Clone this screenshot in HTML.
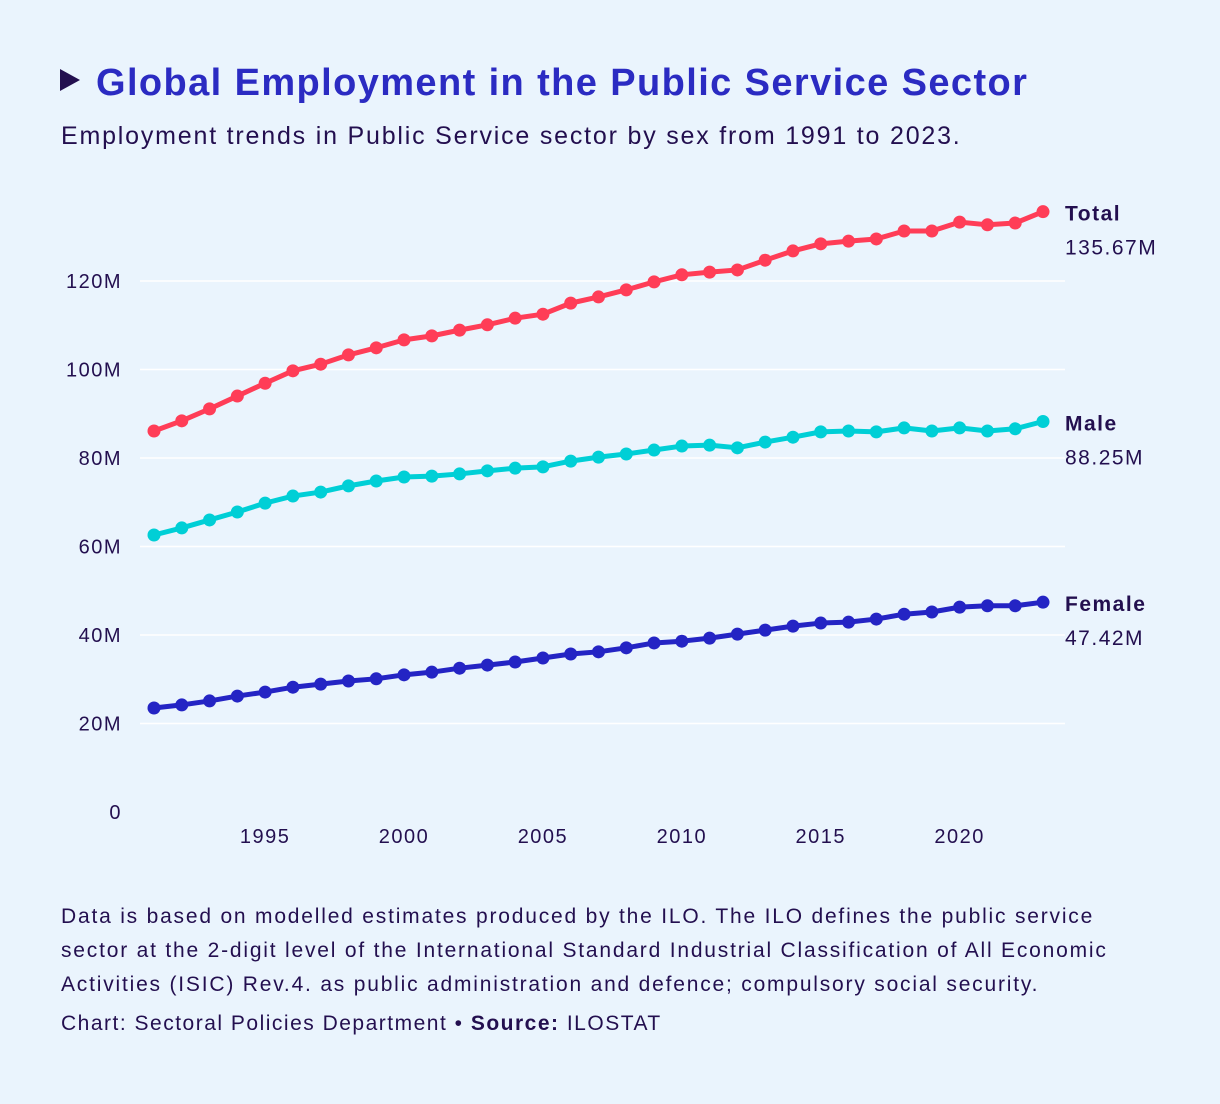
<!DOCTYPE html>
<html><head><meta charset="utf-8"><style>
body{margin:0;width:1220px;height:1104px;background:#eaf4fd;font-family:"Liberation Sans",sans-serif;color:#230f4f;overflow:hidden}
#t{position:absolute;left:60px;top:62px;font-size:38px;font-weight:bold;color:#2b2bc2;white-space:nowrap;letter-spacing:1.4px}
#t span{display:inline-block;width:0;height:0;border-top:11px solid transparent;border-bottom:11px solid transparent;border-left:20px solid #230f4f;margin-right:16px;vertical-align:4px}
#s{position:absolute;left:61px;top:122px;font-size:25px;letter-spacing:1.8px;white-space:nowrap}
#n{position:absolute;left:61px;top:900px;font-size:21px;line-height:34px;white-space:nowrap;letter-spacing:1.8px}
#c{position:absolute;left:61px;top:1012px;font-size:21px;letter-spacing:1.5px}
svg{position:absolute;left:0;top:0}
svg text{letter-spacing:1.5px}
</style></head><body>
<div id="t"><span></span>Global Employment in the Public Service Sector</div>
<div id="s">Employment trends in Public Service sector by sex from 1991 to 2023.</div>
<svg id="chart" width="1220" height="1104"></svg>
<div id="n">Data is based on modelled estimates produced by the ILO. The ILO defines the public service<br>sector at the 2-digit level of the International Standard Industrial Classification of All Economic<br>Activities (ISIC) Rev.4. as public administration and defence; compulsory social security.</div>
<div id="c">Chart: Sectoral Policies Department • <b>Source:</b> ILOSTAT</div>
<script>
const years=[];for(let y=1991;y<=2023;y++)years.push(y);
const total=[86.1,88.4,91.1,94.0,96.9,99.7,101.2,103.3,104.9,106.7,107.6,108.9,110.1,111.6,112.5,115.0,116.4,118.0,119.8,121.4,122.0,122.5,124.7,126.8,128.4,129.0,129.5,131.3,131.3,133.3,132.7,133.1,135.67];
const male=[62.6,64.2,66.0,67.8,69.8,71.4,72.3,73.7,74.8,75.7,75.9,76.4,77.1,77.7,78.0,79.3,80.2,80.9,81.8,82.7,82.9,82.3,83.6,84.7,85.9,86.1,85.9,86.8,86.1,86.8,86.1,86.6,88.25];
const female=[23.5,24.2,25.1,26.2,27.1,28.2,28.9,29.6,30.1,31.0,31.6,32.5,33.2,33.9,34.8,35.7,36.2,37.1,38.2,38.6,39.3,40.2,41.1,42.0,42.7,42.9,43.6,44.7,45.2,46.3,46.6,46.6,47.42];
const yTicks=[0,20,40,60,80,100,120];
const xTicks=[1995,2000,2005,2010,2015,2020];
const seriesNames=["Total","Male","Female"];
const NS="http://www.w3.org/2000/svg",svg=document.getElementById('chart');
const X=y=>154+(y-1991)*(1043-154)/32, Y=v=>812-v*4.425;
function el(t,a,p){const e=document.createElementNS(NS,t);for(const k in a)e.setAttribute(k,a[k]);(p||svg).appendChild(e);return e;}
yTicks.forEach(v=>{
 if(v>0){const g=el('line',{x1:140,x2:1065,y1:Y(v),y2:Y(v),stroke:'#fff','stroke-width':1.5});
 
 }
 const t=el('text',{x:122,y:Y(v)+7,'text-anchor':'end','font-size':20,fill:'#230f4f'});t.textContent=v===0?'0':v+'M';
 
 
});
xTicks.forEach(v=>{const t=el('text',{x:X(v),y:843,'text-anchor':'middle','font-size':20,fill:'#230f4f'});t.textContent=v;
 
 });
const data=[total,male,female],cols=['#ff3d57','#00cfd6','#2424c4'];
data.forEach((d,i)=>{
 const g=el('g',{});
 
 
 el('polyline',{points:d.map((v,j)=>X(years[j])+','+Y(v)).join(' '),fill:'none',stroke:cols[i],'stroke-width':5,'stroke-linejoin':'round'},g);
 d.forEach((v,j)=>{const c=el('circle',{cx:X(years[j]),cy:Y(v),r:6.5,fill:cols[i]},g);
  
  });
 const last=d[d.length-1];
 const a=el('text',{x:1065,y:Y(last)+9,'font-size':21,'font-weight':'bold',fill:'#230f4f'});a.textContent=seriesNames[i];
 
 
 const b=el('text',{x:1065,y:Y(last)+43,'font-size':21,fill:'#230f4f'});b.textContent=last.toFixed(2)+'M';
 
 
});
</script>
</body></html>
